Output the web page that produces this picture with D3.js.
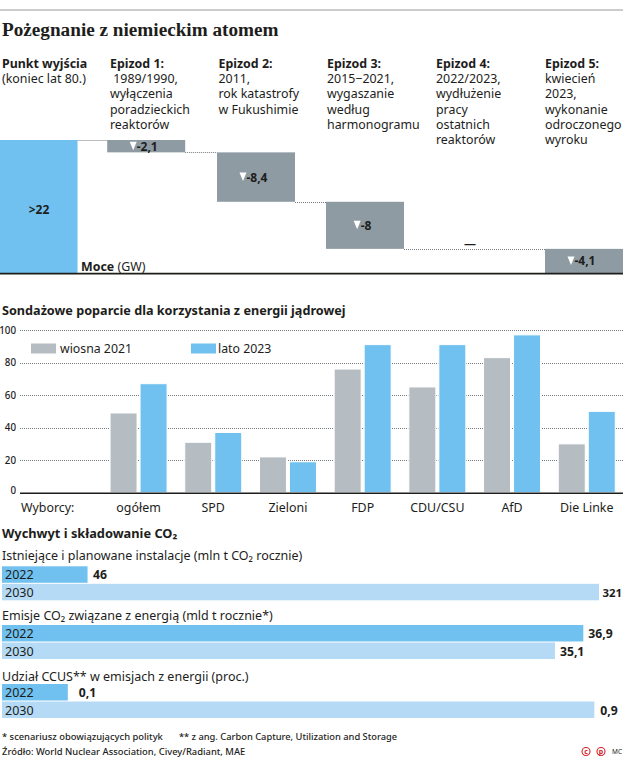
<!DOCTYPE html>
<html lang="pl">
<head>
<meta charset="utf-8">
<script src="https://cdn.jsdelivr.net/npm/d3@7"></script>
<style>
html,body{margin:0;padding:0;background:#fff}
svg{display:block}
text{font-family:"Noto Sans","Open Sans",sans-serif;fill:#1d1d1b}
.b{font-weight:700}
</style>
</head>
<body>
<script>
// Waterfall
const startLabel = ">22";
const startValue = 22.6;
const epDeltas = [2.1, 8.4, 8, 0, 4.1];
const epLabels = ["-2,1", "-8,4", "-8", "—", "-4,1"];
const colNames = ["Punkt wyjścia", "Epizod 1:", "Epizod 2:", "Epizod 3:", "Epizod 4:", "Epizod 5:"];
const colLines = [
  ["(koniec lat 80.)"],
  [" 1989/1990,", "wyłączenia", "poradzieckich", "reaktorów"],
  ["2011,", "rok katastrofy", "w Fukushimie"],
  ["2015−2021,", "wygaszanie", "według", "harmonogramu"],
  ["2022/2023,", "wydłużenie", "pracy", "ostatnich", "reaktorów"],
  ["kwiecień", "2023,", "wykonanie", "odroczonego", "wyroku"]
];
// Grouped columns
const parties = ["ogółem", "SPD", "Zieloni", "FDP", "CDU/CSU", "AfD", "Die Linke"];
const seriesNames = ["wiosna 2021", "lato 2023"];
const spring2021 = [49, 31, 22, 76, 65, 83, 30];
const summer2023 = [67, 37, 19, 91, 91, 97, 50];
const yTicks = [0, 20, 40, 60, 80, 100];
// CCUS bars
const ccusYears = ["2022", "2030"];
const ccusTitles = ["Istniejące i planowane instalacje (mln t CO₂ rocznie)", "Emisje CO₂ związane z energią (mld t rocznie*)", "Udział CCUS** w emisjach z energii (proc.)"];
const installations = [46, 321];
const emissions = [36.9, 35.1];
const ccusShare = [0.1, 0.9];
const installationsText = ["46", "321"];
const emissionsText = ["36,9", "35,1"];
const ccusShareText = ["0,1", "0,9"];

const BLUE = "#70c1ef", LIGHT = "#b4daf5", GREYD = "#8f9ba3", GREYL = "#b5bdc3", INK = "#1d1d1b", DOT = "#777c80";

const svg = d3.select("body").append("svg").attr("width", 623).attr("height", 760);
const dotted = sel => sel.attr("stroke", DOT).attr("stroke-width", 1).attr("stroke-dasharray", "1 1");

// header
svg.append("line").attr("x1", 0).attr("x2", 623).attr("y1", 10).attr("y2", 10).attr("stroke", "#9a9a9a").attr("stroke-width", 1.2);
svg.append("text").attr("x", 2).attr("y", 35.5).attr("font-size", 19.2).attr("class", "b")
  .style("font-family", '"Liberation Serif",serif').text("Pożegnanie z niemieckim atomem");

// ---- waterfall
const barW = 78;
const colTextX = [2, 110, 218.5, 327, 436, 545];
const xCol = [0, 107.2, 217, 326, 435, 545];
const lineY = [83, 98.3, 113.6, 128.9, 144.2];
const yW = d3.scaleLinear().domain([0, startValue]).range([273, 140]);

colNames.forEach((n, i) => {
  svg.append("text").attr("class", "b").attr("x", colTextX[i]).attr("y", 68).attr("font-size", 12.4).text(n);
  colLines[i].forEach((l, j) => {
    svg.append("text").attr("x", colTextX[i]).attr("y", lineY[j]).attr("font-size", 12.4).style("white-space", "pre").text(l);
  });
});

let level = startValue;
const steps = epDeltas.map((d, i) => {
  const s = { i: i + 1, top: level, bottom: level - d, label: epLabels[i], d };
  level -= d;
  return s;
});

// connectors
const conn = svg.append("g");
const wfLine = (xa, xb, v) => conn.append("line").attr("x1", xa).attr("x2", xb).attr("y1", Math.round(yW(v)) + 0.5).attr("y2", Math.round(yW(v)) + 0.5).call(dotted);
wfLine(77.5, xCol[1] + barW, startValue);
wfLine(xCol[1] + barW, xCol[2], steps[0].bottom);
wfLine(xCol[2] + barW, xCol[3], steps[1].bottom);
wfLine(xCol[3] + barW, 623, steps[2].bottom);

// start bar
svg.append("rect").attr("x", 0).attr("width", 77.5).attr("y", yW(startValue)).attr("height", yW(0) - yW(startValue)).attr("fill", BLUE);
svg.append("text").attr("class", "b").attr("x", 39).attr("y", 214).attr("text-anchor", "middle").attr("font-size", 12).text(startLabel);

steps.forEach(s => {
  const x = xCol[s.i];
  if (s.d === 0) {
    svg.append("text").attr("class", "b").attr("x", x + 35).attr("y", yW(s.bottom) - 0.5).attr("text-anchor", "middle").attr("font-size", 12).text(s.label);
    return;
  }
  const y1 = yW(s.top), y2 = yW(s.bottom), cy = (y1 + y2) / 2;
  svg.append("rect").attr("x", x).attr("width", barW).attr("y", y1).attr("height", y2 - y1).attr("fill", GREYD);
  const lab = svg.append("text").attr("class", "b").attr("y", cy + 4.5).attr("font-size", 12).text(s.label);
  const len = lab.node().getComputedTextLength();
  const left = x + barW / 2 - 2.5 - (7 + len) / 2;
  lab.attr("x", left + 7);
  const tc = left + 3.5;
  svg.append("path").attr("d", d3.line()([[tc - 3.5, cy - 4.5], [tc + 3.5, cy - 4.5], [tc, cy + 4]]) + "Z").attr("fill", "#fff");
});
svg.append("text").attr("x", 81).attr("y", 271).attr("font-size", 12.4).html('<tspan class="b">Moce</tspan> (GW)');
svg.append("line").attr("x1", 0).attr("x2", 623).attr("y1", 273.7).attr("y2", 273.7).attr("stroke", INK).attr("stroke-width", 1.8);

// ---- grouped columns
svg.append("text").attr("class", "b").attr("x", 2).attr("y", 315).attr("font-size", 12.65).text("Sondażowe poparcie dla korzystania z energii jądrowej");
const yC = d3.scaleLinear().domain([0, 100]).range([492.7, 330]);
const x0 = d3.scaleBand().domain(parties).range([101.2, 624.1]);
const x1 = d3.scaleBand().domain(seriesNames).range([0, 57]).paddingInner(0.1);
const inset = (x0.bandwidth() - 57) / 2;

const grid = svg.append("g");
yTicks.filter(t => t > 0).forEach(t => {
  grid.append("line").attr("x1", 20).attr("x2", 623).attr("y1", Math.round(yC(t)) + 0.5).attr("y2", Math.round(yC(t)) + 0.5).call(dotted);
});
yTicks.forEach(t => {
  svg.append("text").attr("x", 16).attr("y", yC(t) + (t === 0 ? 1 : 3.5)).attr("text-anchor", "end").attr("font-size", 9.8).attr("font-weight", 500).text(t);
});
const seriesVals = [spring2021, summer2023], seriesCols = [GREYL, BLUE];
seriesNames.forEach((sn, si) => {
  svg.append("g").selectAll("rect").data(seriesVals[si]).join("rect")
    .attr("x", (d, i) => x0(parties[i]) + inset + x1(sn))
    .attr("width", x1.bandwidth())
    .attr("y", d => yC(d))
    .attr("height", d => yC(0) - yC(d))
    .attr("fill", seriesCols[si])
    .attr("stroke", "#fff").attr("stroke-width", 1);
});
svg.append("line").attr("x1", 20).attr("x2", 623).attr("y1", 493.2).attr("y2", 493.2).attr("stroke", INK).attr("stroke-width", 1.5);
parties.forEach(p => {
  svg.append("text").attr("x", x0(p) + x0.bandwidth() / 2).attr("y", 512).attr("text-anchor", "middle").attr("font-size", 12.4).text(p);
});
svg.append("text").attr("x", 21).attr("y", 512).attr("font-size", 12.4).text("Wyborcy:");
// legend
const legendX = [31, 191], legendTX = [60, 218];
seriesNames.forEach((sn, i) => {
  svg.append("rect").attr("x", legendX[i]).attr("y", 343.5).attr("width", 25).attr("height", 10).attr("fill", seriesCols[i]);
  svg.append("text").attr("x", legendTX[i]).attr("y", 352.5).attr("font-size", 12.3).text(sn);
});

// ---- CCUS
svg.append("text").attr("class", "b").attr("x", 2).attr("y", 538).attr("font-size", 12.8).text("Wychwyt i składowanie CO₂");
const groups = [
  { title: ccusTitles[0], vals: installations, txt: installationsText, max: 321, w: 597, ty: 560, y: 566.3, gap: 5.5 },
  { title: ccusTitles[1], vals: emissions, txt: emissionsText, max: 36.9, w: 581.3, ty: 620, y: 625, gap: 5 },
  { title: ccusTitles[2], vals: ccusShare, txt: ccusShareText, max: 0.9, w: 592.3, ty: 681, y: 684, gap: 6 }
];
groups.forEach((g, gi) => {
  svg.append("text").attr("x", 2).attr("y", g.ty).attr("font-size", 12.5).text(g.title);
  const x = d3.scaleLinear().domain([0, g.max]).range([2, 2 + g.w]);
  const y = d3.scaleBand().domain(ccusYears).range([g.y, g.y + 34]).paddingInner(0.06);
  ccusYears.forEach((yr, i) => {
    svg.append("rect").attr("x", x(0)).attr("y", y(yr)).attr("width", x(g.vals[i]) - x(0)).attr("height", y.bandwidth())
      .attr("fill", i === 0 ? BLUE : LIGHT);
    svg.append("text").attr("x", 5).attr("y", y(yr) + 13).attr("font-size", 12.5).text(yr);
    const tight = gi === 0 && i === 1;
    const extra = (gi === 2 && i === 0) ? 5 : 0;
    svg.append("text").attr("class", "b").attr("x", x(g.vals[i]) + (tight ? 3.5 : g.gap) + extra).attr("y", y(yr) + 13).attr("font-size", tight ? 11.4 : 12.2).text(g.txt[i]);
  });
});

// ---- footer
svg.append("text").attr("x", 2).attr("y", 740).attr("font-size", 9.4).attr("font-weight", 500).text("* scenariusz obowiązujących polityk");
svg.append("text").attr("x", 179).attr("y", 740).attr("font-size", 9.3).attr("font-weight", 500).text("** z ang. Carbon Capture, Utilization and Storage");
svg.append("text").attr("x", 2).attr("y", 755).attr("font-size", 9.4).attr("font-weight", 500).text("Źródło: World Nuclear Association, Civey/Radiant, MAE");
[["c", 586], ["p", 601]].forEach(([t, cx]) => {
  svg.append("circle").attr("cx", cx).attr("cy", 751.5).attr("r", 4).attr("fill", "none").attr("stroke", "#d2232a").attr("stroke-width", 1.1);
  svg.append("text").attr("x", cx).attr("y", 754).attr("text-anchor", "middle").attr("font-size", 7).attr("class", "b").style("fill", "#d2232a").text(t);
});
svg.append("text").attr("x", 612).attr("y", 754).attr("font-size", 6.5).text("MC");
</script>
</body>
</html>
